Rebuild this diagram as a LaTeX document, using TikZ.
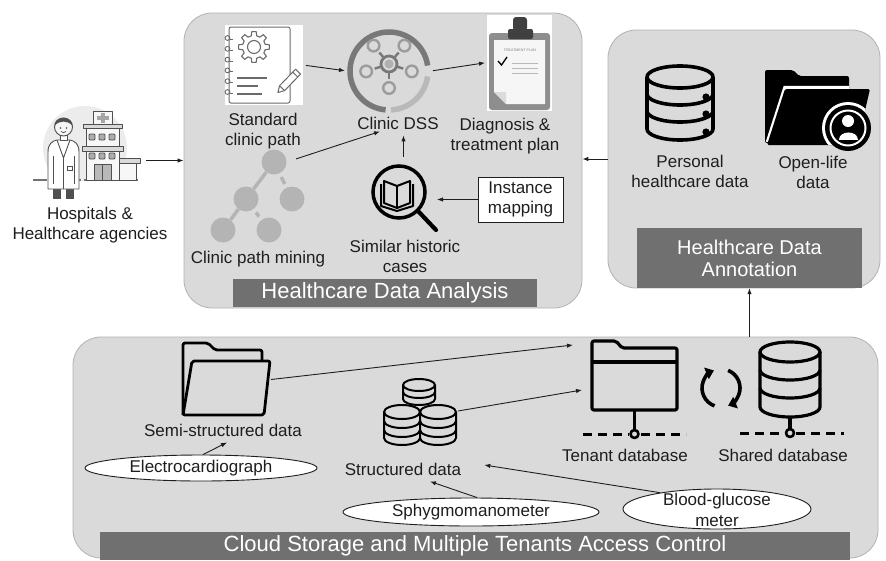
\documentclass[tikz,border=0pt]{standalone}
\usepackage{fontspec}
\setmainfont{Liberation Sans}
\usetikzlibrary{arrows.meta,shapes.geometric,calc}
\definecolor{panelfill}{HTML}{DADADA}
\definecolor{panelline}{HTML}{B2B2B2}
\definecolor{bannerfill}{HTML}{707070}
\definecolor{ink}{HTML}{1E1E1E}
\definecolor{treegray}{HTML}{B4B4B4}
\definecolor{dssdark}{HTML}{787878}
\definecolor{dsslight}{HTML}{B9B9B9}
\definecolor{dssnode}{HTML}{9C9C9C}
\definecolor{nbgray}{HTML}{6A6A6A}
\definecolor{boardgray}{HTML}{8E8E8E}
\definecolor{clipdark}{HTML}{404040}
\definecolor{bldline}{HTML}{505050}

% cylinder outline: style, centre x, top y, x radius, y radius, bottom y
\newcommand{\drawcyl}[6]{%
  \draw[#1] (#2,#3) ellipse [x radius=#4, y radius=#5];
  \draw[#1] (#2-#4,#3) -- (#2-#4,#6) arc[start angle=180,end angle=0,x radius=#4,y radius=#5] -- (#2+#4,#3);}
% lower half-ellipse band of a cylinder: style, centre x, x radius, y radius, y
\newcommand{\bandline}[5]{%
  \draw[#1] (#2-#3,#5) arc[start angle=180,end angle=0,x radius=#3,y radius=#4];}
% opaque body of a cylinder: centre x, top y, x radius, y radius, bottom y
\newcommand{\fillcyl}[5]{%
  \fill[panelfill] (#1-#3,#2) -- (#1-#3,#5) arc[start angle=180,end angle=0,x radius=#3,y radius=#4]
    -- (#1+#3,#2) arc[start angle=0,end angle=-180,x radius=#3,y radius=#4] -- cycle;}

\begin{document}
\begin{tikzpicture}[x=1pt,y=-1pt,
  panelbox/.style={draw=panelline, line width=0.8pt, fill=panelfill, rounded corners=28pt, inner sep=0pt},
  bannerbox/.style={fill=bannerfill, text=white, inner sep=0pt, align=center, font=\fontsize{22}{24}\selectfont},
  lbl/.style={align=center, text=ink, inner sep=1pt, font=\fontsize{17}{20}\selectfont},
  conn/.style={draw=ink, line width=0.9pt, -{Latex[length=6pt,width=4.5pt]}},
  holder/.style={inner sep=0pt, outer sep=0pt},
  ovalbox/.style={ellipse, draw=ink, line width=0.9pt, fill=white, inner sep=0pt},
  iconline/.style={draw=black, line width=3.2pt, line join=round},
  thinicon/.style={draw=black, line width=2pt, line join=round},
  treedot/.style={circle, fill=treegray, inner sep=0pt, minimum size=25pt},
  treeline/.style={draw=treegray, line width=3.5pt},
  bld/.style={draw=bldline, line width=0.9pt, fill=gray!6, line join=round},
  nbline/.style={draw=nbgray, line width=1pt, line join=round}
]
\useasboundingbox (0,0) rectangle (886,560);

% ---------- panels and banners ----------
\node[panelbox, minimum width=398pt, minimum height=295pt] (hda) at (383,160.5) {};
\node[panelbox, minimum width=272pt, minimum height=258pt] (hdann) at (744,159) {};
\node[panelbox, minimum width=805pt, minimum height=221pt] (cloud) at (475.5,447.5) {};

\node[bannerbox, minimum width=304pt, minimum height=28pt] (hdabar) at (385,292.5) {Healthcare Data Analysis};
\node[bannerbox, minimum width=225pt, minimum height=60pt, font=\fontsize{20}{22}\selectfont] (annbar) at (749.5,258) {Healthcare Data\\Annotation};
\node[bannerbox, minimum width=750pt, minimum height=28pt] (cloudbar) at (475,546) {Cloud Storage and Multiple Tenants Access Control};

% ---------- hospitals ----------
\node[holder, minimum width=110pt, minimum height=95pt] (hospicon) at (85,153) {};
\begin{scope}
  \clip (20,100) rectangle (150,180);
  \fill[gray!15] (85,148) circle[radius=42];
\end{scope}
\draw[bldline!80, line width=1.1pt, dash pattern=on 14pt off 3pt] (33,180) -- (138,180);
% building
\draw[bld] (118,163) rectangle (136,180);
\draw[bld, fill=gray!30] (115,158) rectangle (140,163);
\draw[bld] (86,150) rectangle (119,180);
\foreach \xx in {89,99,109} \draw[bld, fill=gray!65, rounded corners=1pt] (\xx,153) rectangle (\xx+6,159);
\draw[bld, fill=gray!55] (94,164) rectangle (111,180);
\draw[bldline, line width=0.8pt] (102.5,164) -- (102.5,180);
\draw[bld, fill=gray!30] (82,146) rectangle (123,151);
\draw[bld] (86,128) rectangle (119,146);
\foreach \xx in {89,99,109} \draw[bld, fill=gray!65, rounded corners=1pt] (\xx,134) rectangle (\xx+6,140);
\draw[bld, fill=gray!30] (83,124) rectangle (122,128);
\draw[bld] (93,111) rectangle (112,124);
\fill[gray!70] (101,113) rectangle (104.5,122.5);
\fill[gray!70] (96.5,116) rectangle (109,119.5);
% doctor
\fill[bldline] (53,188) rectangle (61,199);
\fill[bldline] (66,188) rectangle (74,199);
\draw[bld, fill=white] (48,189) -- (48,152) .. controls (48,144) and (52,141) .. (57,140) -- (70,140)
  .. controls (75,141) and (79,144) .. (79,152) -- (79,189) -- cycle;
\draw[bldline, line width=0.9pt] (57,140) -- (63.5,158) -- (70,140);
\draw[bldline, line width=0.9pt] (63.5,158) -- (63.5,189);
\draw[bldline, line width=0.9pt] (53,156) -- (53,184);
\draw[bldline, line width=0.9pt] (74,156) -- (74,184);
\draw[bldline, line width=0.8pt] (67,166) rectangle (72,170);
\draw[bld, fill=white] (60,133) rectangle (67,140);
\draw[bld, fill=gray!8] (63.5,127) circle[radius=9];
\fill[bldline] (54.5,126) .. controls (54,115) and (73,115) .. (72.5,126) .. controls (68,120) and (59,120) .. (54.5,126) -- cycle;
\fill[bldline] (60.5,128) circle[radius=0.9];
\fill[bldline] (66.5,128) circle[radius=0.9];
\draw[bldline, line width=0.7pt] (61,131.5) .. controls (62.5,133) and (64.5,133) .. (66,131.5);
\node[lbl] (hosplbl) at (90,225) {Hospitals \&\\Healthcare agencies};

% ---------- standard clinic path (notebook) ----------
\node[holder, minimum width=78pt, minimum height=80pt] (stdicon) at (264,65) {};
\fill[white] (225,25) rectangle (303,105);
\draw[nbline, rounded corners=2pt] (229,27) rectangle (290,103);
\foreach \yy in {38,48.8,59.6,70.4,81.2,92} {
  \draw[nbline, line width=0.9pt] (227.5,\yy) circle[radius=2.4];
  \draw[nbline, line width=0.9pt] (229.5,\yy+1.5) -- (233,\yy+1.5);
}
\begin{scope}[shift={(254,47)}]
  \draw[nbline, line width=1.1pt] (-8:15.5) \foreach \a in {0,45,...,315} { -- (\a-8:15.5) -- (\a+8:15.5) -- (\a+14:11.5) -- (\a+31:11.5) } -- cycle;
  \draw[nbline, line width=1.1pt] (0,0) circle[radius=6.5];
\end{scope}
\draw[nbline, line width=1.2pt] (237,78) -- (267,78);
\draw[nbline, line width=1.2pt] (237,86) -- (258,86);
\draw[nbline, line width=1.2pt] (237,94) -- (262,94);
\begin{scope}[shift={(289,81)}, rotate=46]
  \draw[nbline, fill=white] (-16,0) -- (-10,-3.5) -- (13,-3.5) -- (13,3.5) -- (-10,3.5) -- cycle;
  \draw[nbline] (-10,-3.5) -- (-10,3.5);
  \draw[nbline] (9,-3.5) -- (9,3.5);
\end{scope}
\node[lbl] (stdlbl) at (263,131) {Standard\\clinic path};

% ---------- clinic DSS ----------
\node[holder, circle, minimum size=84pt] (dssicon) at (389,71) {};
\begin{scope}[shift={(389,71)}]
  \draw[dssdark, line width=5.5pt] (-8:39) arc[start angle=-8, end angle=-265, radius=39];
  \draw[dsslight, line width=5.5pt] (-273:39) arc[start angle=-273, end angle=-352, radius=39];
\end{scope}
\begin{scope}[shift={(389,64)}]
  \foreach \ang in {-50,-130,-198,18,90} {
    \draw[dssdark, line width=2.4pt] (\ang:9) -- (\ang:15);
    \draw[dssnode, line width=2.4pt] (\ang:24) circle[radius=5.8];
  }
  \draw[dssdark, line width=2.8pt] (0,0) circle[radius=8];
  \fill[gray!62] (0,0) circle[radius=4.6];
\end{scope}
\node[lbl] (dsslbl) at (398,123) {Clinic DSS};

% ---------- diagnosis & treatment plan (clipboard) ----------
\node[holder, minimum width=65pt, minimum height=95pt] (planicon) at (519.5,62.5) {};
\fill[white] (487,15) rectangle (552,111);
\fill[boardgray, rounded corners=3pt] (489,33) rectangle (550,110);
\fill[gray!7] (494,40) -- (545,40) -- (545,104) -- (506,104) -- (494,92) -- cycle;
\fill[gray!28] (494,92) -- (506,92) -- (506,104) -- cycle;
\fill[clipdark, rounded corners=2pt] (508,29) rectangle (533,39);
\fill[clipdark, rounded corners=3pt] (513,17) rectangle (527,31);
\node[inner sep=0pt, text=gray, font=\fontsize{3.6}{4}\selectfont] (plantitle) at (520,50) {TREATMENT PLAN};
\draw[black, line width=1.3pt] (498,61) -- (501.5,65) -- (507,57);
\foreach \yy in {63,68,73} \draw[gray!55, line width=0.7pt] (512,\yy) -- (538,\yy);
\node[lbl] (planlbl) at (505,136) {Diagnosis \&\\treatment plan};

% ---------- clinic path mining (tree) ----------
\node[treedot] (mtop) at (274,162) {};
\node[treedot] (mmid) at (246,199) {};
\node[treedot] (mright) at (292,199) {};
\node[treedot] (mbl) at (223,230) {};
\node[treedot] (mbr) at (269,230) {};
\draw[treeline] (mtop) -- (mmid);
\draw[treeline] (mmid) -- (mbl);
\draw[treeline, shorten <=4pt, shorten >=4pt] (mtop) -- (mright);
\draw[treeline, shorten <=4pt, shorten >=4pt] (mmid) -- (mbr);
\node[lbl] (minelbl) at (258,259) {Clinic path mining};

% ---------- similar historic cases (magnifier) ----------
\node[holder, minimum width=67pt, minimum height=69pt] (magicon) at (403.5,197.5) {};
\draw[black, line width=3.5pt] (399,192) circle[radius=26];
\draw[black, line width=4.2pt, line cap=round] (418,211) -- (436,230);
\draw[thinicon] (397,186) -- (384,181) -- (384,203) -- (397,208) -- (410,203) -- (410,181) -- cycle;
\draw[thinicon] (397,186) -- (397,208);
\draw[thinicon] (381,184) -- (381,206) -- (397,211) -- (413,206) -- (413,184);
\node[lbl] (simlbl) at (405,256) {Similar historic\\cases};

\node[lbl, draw=ink, line width=0.8pt, fill=white, minimum width=85pt, minimum height=45pt, inner sep=2pt] (inst) at (520.5,199.5) {Instance\\mapping};

% ---------- personal healthcare data (database) ----------
\node[holder, minimum width=70pt, minimum height=76pt] (pdbicon) at (680,103) {};
\drawcyl{iconline, line width=3.6pt}{680}{77}{33}{11}{129}
\bandline{iconline, line width=3.6pt}{680}{33}{11}{94}
\bandline{iconline, line width=3.6pt}{680}{33}{11}{111}
\foreach \yy in {97,114,132} \fill[black] (706,\yy) circle[radius=3.6];
\node[lbl] (pdblbl) at (690,171) {Personal\\healthcare data};

% ---------- open-life data (folder with person) ----------
\node[holder, minimum width=106pt, minimum height=82pt] (olicon) at (817,108) {};
\fill[black, rounded corners=2pt] (765,143) -- (765,70) -- (793,70) -- (799,76) -- (849,76) -- (849,140) -- cycle;
\draw[white, line width=3.5pt] (767.5,142) -- (785,87.5) -- (849,87.5);
\fill[black, rounded corners=1.5pt] (785,89) -- (870,89) -- (857,145) -- (767,145) -- cycle;
\begin{scope}
  \clip (785,89) -- (870,89) -- (857,145) -- (767,145) -- cycle;
  \fill[white] (848,128) circle[radius=26];
\end{scope}
\fill[black] (848,128) circle[radius=23];
\draw[white, line width=2pt] (848,128) circle[radius=17.5];
\fill[white] (848,121) circle[radius=6];
\fill[white] (838.5,140) .. controls (838.5,130) and (857.5,130) .. (857.5,140) -- cycle;
\node[lbl] (ollbl) at (813,172) {Open-life\\data};

% ---------- semi-structured data (folder outline) ----------
\node[holder, minimum width=90pt, minimum height=77pt] (semiicon) at (226,379.5) {};
\draw[iconline, line width=2.8pt, rounded corners=2pt] (262,360) -- (262,350) -- (215,350) -- (208,343) -- (183,343) -- (183,415);
\draw[iconline, line width=2.8pt, rounded corners=2pt] (183,415) -- (192,361) -- (270,361) -- (264,415) -- cycle;
\node[lbl] (semilbl) at (223,430) {Semi-structured data};

\node[ovalbox, minimum width=232pt, minimum height=26pt] (ecg) at (201,468) {};
\node[lbl] (ecgtxt) at (ecg.center) {Electrocardiograph};

% ---------- structured data (stacked cylinders) ----------
\node[holder, minimum width=76pt, minimum height=70pt] (stackicon) at (420,411) {};
\drawcyl{thinicon}{419}{385}{16}{6}{399}
\bandline{thinicon}{419}{16}{6}{392}
\fillcyl{402}{412}{18}{7}{438}
\drawcyl{thinicon}{402}{412}{18}{7}{438}
\bandline{thinicon}{402}{18}{7}{421}
\bandline{thinicon}{402}{18}{7}{430}
\fillcyl{438}{412}{18}{7}{438}
\drawcyl{thinicon}{438}{412}{18}{7}{438}
\bandline{thinicon}{438}{18}{7}{421}
\bandline{thinicon}{438}{18}{7}{430}
\node[lbl] (structlbl) at (403,469) {Structured data};

\node[ovalbox, minimum width=256pt, minimum height=28pt] (sphyg) at (471,512) {};
\node[lbl] (sphygtxt) at (sphyg.center) {Sphygmomanometer};
\node[ovalbox, minimum width=188pt, minimum height=40pt] (bgm) at (717,509) {};
\node[lbl, font=\fontsize{17}{21}\selectfont] (bgmtxt) at (717,510) {Blood-glucose\\meter};

% ---------- tenant database ----------
\node[holder, minimum width=86pt, minimum height=70pt] (tenanticon) at (635,375) {};
\draw[iconline, rounded corners=2pt] (592,410) -- (592,341) -- (616,341) -- (622,348) -- (677,348) -- (677,410) -- cycle;
\draw[iconline] (592,362) -- (677,362);
\draw[iconline] (634.5,410) -- (634.5,430);
\draw[iconline, line width=2.6pt] (634.5,434) circle[radius=4];
\draw[iconline, line width=3pt, dash pattern=on 9pt off 6pt] (583,434) -- (629,434);
\draw[iconline, line width=3pt, dash pattern=on 9pt off 6pt] (641,434) -- (686,434);
\node[lbl] (tenantlbl) at (625,455) {Tenant database};

% ---------- synchronisation ----------
\node[holder, minimum size=44pt] (sync) at (721,388) {};
\begin{scope}[shift={(sync.center)}]
  \draw[black, line width=3.6pt, -{Triangle[length=8pt,width=12pt]}] (-250:19) arc[start angle=-250, end angle=-112, radius=19];
  \draw[black, line width=3.6pt, -{Triangle[length=8pt,width=12pt]}] (-68:19) arc[start angle=-68, end angle=68, radius=19];
\end{scope}

% ---------- shared database ----------
\node[holder, minimum width=62pt, minimum height=76pt] (sharedicon) at (790,380) {};
\drawcyl{iconline}{790}{352}{30}{10}{407}
\bandline{iconline}{790}{30}{10}{370}
\bandline{iconline}{790}{30}{10}{388}
\draw[iconline] (790,417) -- (790,429);
\draw[iconline, line width=2.6pt] (790,433) circle[radius=4];
\draw[iconline, line width=3pt, dash pattern=on 9pt off 6pt] (740,433) -- (785,433);
\draw[iconline, line width=3pt, dash pattern=on 9pt off 6pt] (796,433) -- (844,433);
\node[lbl] (sharedlbl) at (783,455) {Shared database};

% ---------- connectors ----------
\draw[conn, shorten <=6pt] (hospicon.east |- hda.west) -- (hda.west);
\draw[conn] (hdann.west) -- (hdann.west -| hda.east);
\draw[conn] (annbar.south |- cloud.north) -- (annbar.south);
\draw[conn, shorten <=3pt, shorten >=2pt] (stdicon.east) -- (dssicon.west);
\draw[conn, shorten <=2pt, shorten >=2pt] (dssicon.east) -- (planicon.west);
\draw[conn, shorten <=10pt] (mtop.east) -- ($(dsslbl.south)+(-18,1)$);
\draw[conn, shorten <=6pt, shorten >=5pt] (magicon.north) -- (magicon.north |- dsslbl.south);
\draw[conn] (inst.west) -- (inst.west -| magicon.east);
\draw[conn] (semiicon.east) -- ($(tenanticon.north west)+(-19,5)$);
\draw[conn] (stackicon.east) -- ($(tenanticon.west)+(-10,15)$);
\draw[conn] ($(ecg.north)+(2,0)$) -- ($(semilbl.south)+(4,5)$);
\draw[conn] ($(sphyg.north)+(6,0)$) -- ($(structlbl.south)+(27,5)$);
\draw[conn] (bgm.164) -- ($(structlbl.east)+(22,-4)$);
\end{tikzpicture}
\end{document}
